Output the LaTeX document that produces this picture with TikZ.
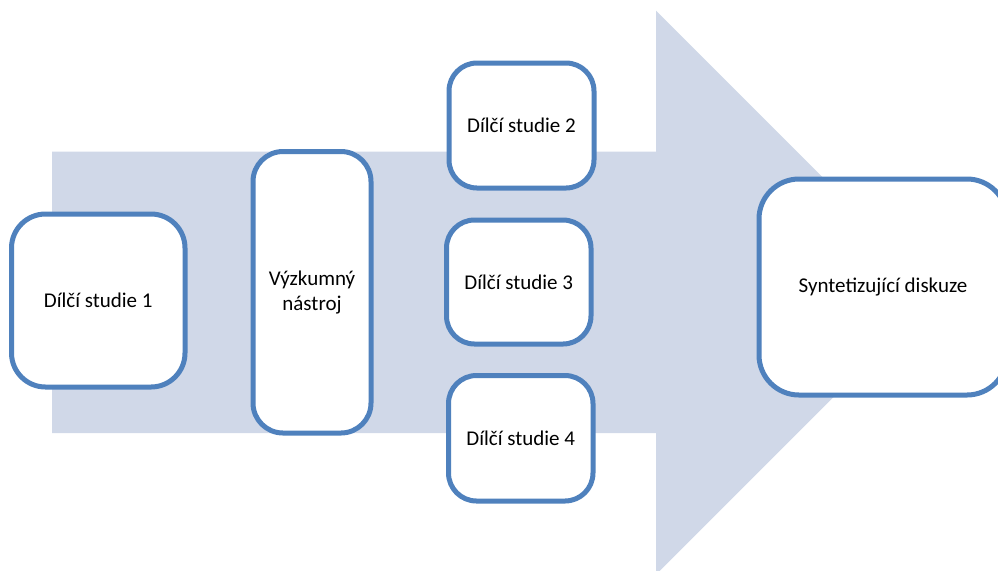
\documentclass[tikz,border=0pt]{standalone}
\usepackage{fontspec}
\setmainfont{Carlito}
\definecolor{boxblue}{HTML}{4F81BD}
\definecolor{arrowfill}{HTML}{D0D8E8}
\begin{document}
\begin{tikzpicture}[x=0.5pt,y=-0.5pt,
  box/.style={draw=boxblue, line width=2.5pt, fill=white, rounded corners=#1,
    align=center, inner sep=0pt, font=\fontsize{10.5}{12.6}\selectfont},
]
\useasboundingbox (0,0) rectangle (998,570);
\clip (0,0) rectangle (998,570);
% big arrow
\fill[arrowfill] (52,151.7) -- (656,151.7) -- (656,10.5) -- (938,292.5)
  -- (656,574.5) -- (656,433) -- (52,433) -- cycle;
% boxes
\node[box=17pt, minimum width=86.75pt, minimum height=86.5pt] (s1) at (98.25,300.5) {Dílčí studie 1};
\node[box=15pt, minimum width=59pt, minimum height=140.75pt] (vn) at (312,292.25) {Výzkumný\\nástroj};
\node[box=14pt, minimum width=72.5pt, minimum height=62.5pt] (s2) at (521.5,125.5) {Dílčí studie 2};
\node[box=14pt, minimum width=72.25pt, minimum height=62pt] (s3) at (518.75,282) {Dílčí studie 3};
\node[box=14pt, minimum width=72.25pt, minimum height=62.75pt] (s4) at (520.75,438.25) {Dílčí studie 4};
\node[box=20pt, minimum width=124pt, minimum height=108pt] (sd) at (883,287) {Syntetizující diskuze};
\end{tikzpicture}
\end{document}
